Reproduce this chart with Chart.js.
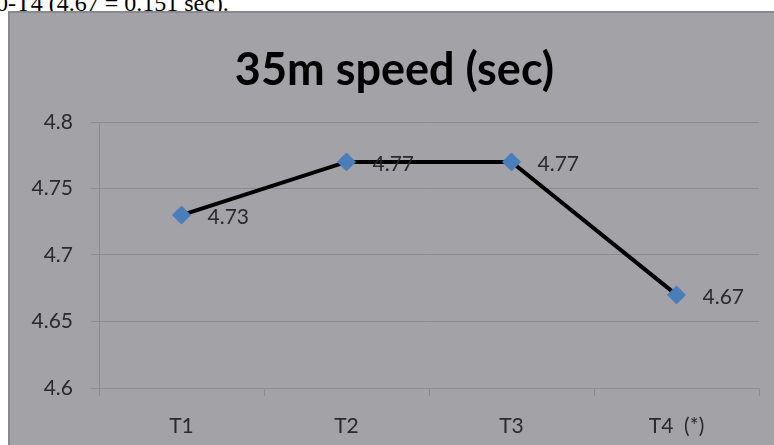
<!DOCTYPE html>
<html>
<head>
<meta charset="utf-8">
<script src="https://cdn.jsdelivr.net/npm/chart.js@4/dist/chart.umd.min.js"></script>
<style>
  body { margin: 0; background: #fff; width: 774px; height: 445px; overflow: hidden; position: relative; }
  #caption { position: absolute; left: -4px; top: -9px; font-family: "Liberation Serif", serif; font-size: 24px; line-height: 24px; color: #000; white-space: nowrap; }
  #box { position: absolute; left: 8px; top: 11px; width: 780px; height: 450px; background: #a3a2a7; border: 2px solid #8a8a8c; }
  #wrap { position: absolute; left: 0; top: 0; width: 764px; height: 432px; }
</style>
</head>
<body>
<div id="caption">0-T4 (4.67 = 0.151 sec).</div>
<div id="box"><div id="wrap"><canvas id="graph1"></canvas></div></div>
<script>
var categories = ["T1", "T2", "T3", "T4  (*)"];
var speed = [4.73, 4.77, 4.77, 4.67];
var yTicks = [4.6, 4.65, 4.7, 4.75, 4.8];

// labels drawn to the right of each point, like the Excel data labels
var pointLabels = {
  id: 'pointLabels',
  afterDatasetsDraw: function(chart) {
    var ctx = chart.ctx;
    var meta = chart.getDatasetMeta(0);
    ctx.save();
    ctx.font = '21px Lato';
    ctx.fillStyle = '#2a2a2a';
    ctx.textAlign = 'left';
    ctx.textBaseline = 'middle';
    meta.data.forEach(function(pt, i) {
      ctx.fillText(String(speed[i]), pt.x + 26, pt.y + 2);
    });
    ctx.restore();
  }
};

var ctx = document.getElementById('graph1').getContext('2d');
var chart = new Chart(ctx, {
    type: 'line',
    data: {
        labels: categories,
        datasets: [{
            label: "35m speed (sec)",
            data: speed,
            borderColor: '#000',
            borderWidth: 4,
            pointStyle: 'rectRot',
            pointRadius: 9,
            pointHoverRadius: 9,
            pointBackgroundColor: '#4a7ebb',
            pointBorderColor: '#4a7ebb',
            pointBorderWidth: 1,
            tension: 0
        }]
    },
    plugins: [pointLabels],
    options: {
      responsive: true,
      maintainAspectRatio: false,
      animation: false,
      layout: { padding: { left: 20, right: 15, top: 0, bottom: 0 } },
      plugins: {
        legend: { display: false },
        tooltip: { enabled: false },
        title: {
          display: true,
          text: "35m speed (sec)",
          color: '#000',
          font: { family: 'Lato', size: 45, weight: 'bold', lineHeight: 1.2 },
          padding: { top: 30, bottom: 25 }
        }
      },
      scales: {
        x: {
          offset: true,
          afterFit: function(axis) { axis.height = 57; },
          grid: { drawOnChartArea: false, drawTicks: true, offset: true, tickLength: 8, color: '#8c8c8c' },
          border: { color: '#8c8c8c' },
          ticks: { color: '#2a2a2a', font: { family: 'Lato', size: 21 }, padding: 18 }
        },
        y: {
          min: 4.6,
          max: 4.8,
          afterBuildTicks: function(axis) {
            axis.ticks = yTicks.map(function(v) { return { value: v }; });
          },
          afterFit: function(axis) { axis.width = 69; },
          grid: { color: '#8c8c8c', tickLength: 8 },
          border: { color: '#8c8c8c' },
          ticks: {
            color: '#2a2a2a',
            font: { family: 'Lato', size: 21 },
            padding: 18,
            callback: function(v) { return String(v); }
          }
        }
      }
    }
});
</script>
</body>
</html>
